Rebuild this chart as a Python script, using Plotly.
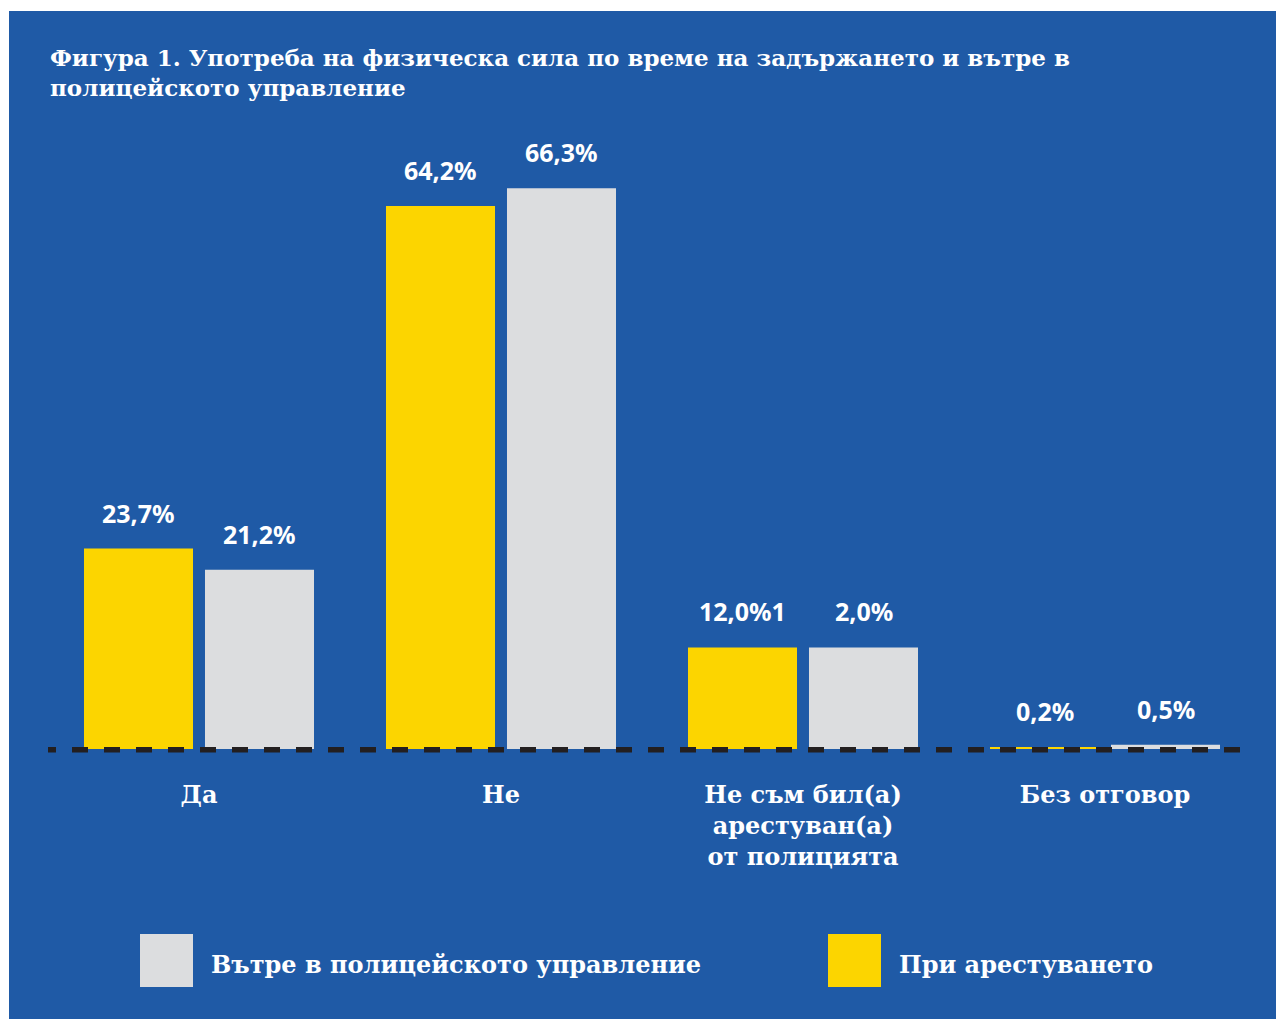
import plotly.graph_objects as go

# ---------------- data ----------------
categories = ["Да", "Не", "Не съм бил(а)<br>арестуван(а)<br>от полицията", "Без отговор"]
series_names = ["При арестуването", "Вътре в полицейското управление"]
arrest_values = [23.7, 64.2, 12.0, 0.2]
inside_values = [21.2, 66.3, 12.0, 0.5]
arrest_labels = ["23,7%", "64,2%", "12,0%1", "0,2%"]
inside_labels = ["21,2%", "66,3%", "2,0%", "0,5%"]
title_text = ("<b>Фигура 1. Употреба на физическа сила по време на задържането и вътре в"
              "<br>полицейското управление</b>")

# ---------------- style ----------------
OFF = 8  # page body margin
W, H = 1284 - OFF, 1019 - OFF
L, R, T, B = 48 - OFF, 1256 - OFF, 157 - OFF, 754 - OFF  # plot area in pixels
Y_MIN, Y_MAX = -0.6, 70
BLUE = "#1F5AA6"
YELLOW = "#FCD500"
GRAY = "#DCDDDF"
DARK = "#231F20"
SLAB = "DejaVu Serif"
SANS = "Noto Sans"
XUNIT = 4 / (R - L)  # category units per pixel


def px(xp):
    return (xp - OFF - L) / (R - L)


def py(yp):
    return (B - (yp - OFF)) / (B - T)


fig = go.Figure()
fig.add_trace(go.Bar(x=categories, y=arrest_values, name=series_names[0],
                     marker=dict(color=YELLOW, line=dict(width=0))))
fig.add_trace(go.Bar(x=categories, y=inside_values, name=series_names[1],
                     marker=dict(color=GRAY, line=dict(width=0))))

shapes = [
    dict(type="rect", xref="paper", yref="paper", x0=px(9), x1=px(1300), y0=py(1040), y1=py(11),
         fillcolor=BLUE, line=dict(width=0), layer="below"),
    dict(type="line", xref="x", yref="y", x0=-0.5 - 8 * XUNIT, x1=3.5, y0=-0.1, y1=-0.1,
         line=dict(color=DARK, width=5.5, dash="16px,16px"), layer="above"),
    # legend swatches
    dict(type="rect", xref="paper", yref="paper", x0=px(140), x1=px(193), y0=py(987), y1=py(934),
         fillcolor=GRAY, line=dict(width=0)),
    dict(type="rect", xref="paper", yref="paper", x0=px(828), x1=px(881), y0=py(987), y1=py(934),
         fillcolor=YELLOW, line=dict(width=0)),
]

annotations = []
for i, c in enumerate(categories):
    annotations.append(dict(x=c, y=arrest_values[i], text=arrest_labels[i], xshift=-60.5, yshift=17,
                            showarrow=False, yanchor="bottom",
                            font=dict(family=SANS, size=25, color="white", weight="bold")))
    annotations.append(dict(x=c, y=inside_values[i], text=inside_labels[i], xshift=60.5, yshift=17,
                            showarrow=False, yanchor="bottom",
                            font=dict(family=SANS, size=25, color="white", weight="bold")))

annotations.append(dict(xref="paper", yref="paper", x=0, y=py(42), xanchor="left", yanchor="top",
                        text=title_text, align="left", showarrow=False,
                        font=dict(family=SLAB, size=23, color="white")))
annotations.append(dict(xref="paper", yref="paper", x=px(209), y=py(964), xanchor="left", yanchor="middle",
                        text=series_names[1], showarrow=False,
                        font=dict(family=SLAB, size=24, color="white", weight="bold")))
annotations.append(dict(xref="paper", yref="paper", x=px(897), y=py(964), xanchor="left", yanchor="middle",
                        text=series_names[0], showarrow=False,
                        font=dict(family=SLAB, size=24, color="white", weight="bold")))

fig.update_layout(
    width=W, height=H,
    margin=dict(l=L, r=W - R, t=T, b=H - B, autoexpand=False),
    paper_bgcolor="white",
    plot_bgcolor="rgba(0,0,0,0)",
    barmode="group",
    bargap=0.1987,
    bargroupgap=0.099,
    showlegend=False,
    shapes=shapes,
    annotations=annotations,
    xaxis=dict(range=[-0.5, 3.5], showgrid=False, zeroline=False, showline=False, ticks="",
               ticklabelstandoff=24,
               tickfont=dict(family=SLAB, size=24, color="white", weight="bold")),
    yaxis=dict(range=[Y_MIN, Y_MAX], showgrid=False, zeroline=False, showline=False,
               showticklabels=False, ticks=""),
)

fig.write_html("out.html")
